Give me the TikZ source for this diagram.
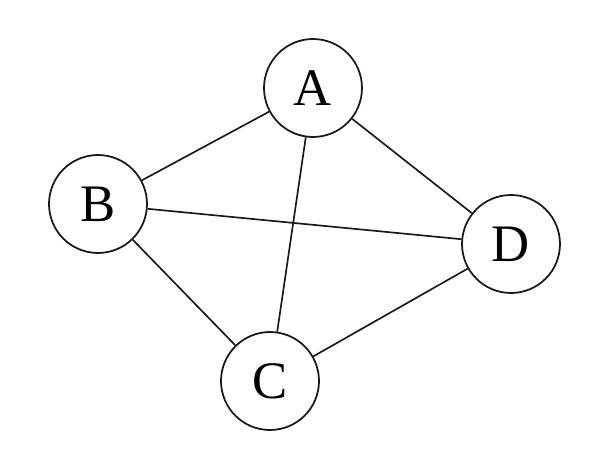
\documentclass[tikz,border=0pt]{standalone}
\usepackage{fontspec}
\setmainfont{Liberation Serif}
\usepackage{tikz}
\usetikzlibrary{positioning}
\definecolor{mydark}{RGB}{25,25,25}
\tikzset{
  vertex/.style={circle, draw=mydark, fill=white, minimum size=1.96cm,
    inner sep=0pt, line width=1pt, font=\fontsize{30}{34}\selectfont},
  edge/.style={line width=0.95pt, color=mydark}
}

\begin{document}
\begin{tikzpicture}
  \useasboundingbox (0,0) rectangle (12,9);

  % Vertex positions
  \coordinate (pA) at (6.26,7.24);
  \coordinate (pB) at (1.96,4.92);
  \coordinate (pC) at (5.40,1.38);
  \coordinate (pD) at (10.22,4.12);

  % Draw vertices
  \node[vertex] (A) at (pA) {A};
  \node[vertex] (B) at (pB) {B};
  \node[vertex] (C) at (pC) {C};
  \node[vertex] (D) at (pD) {D};

  % Draw edges
  \draw[edge] (A) -- (B);
  \draw[edge] (A) -- (C);
  \draw[edge] (A) -- (D);
  \draw[edge] (B) -- (D);
  \draw[edge] (B) -- (C);
  \draw[edge] (C) -- (D);
\end{tikzpicture}
\end{document}
